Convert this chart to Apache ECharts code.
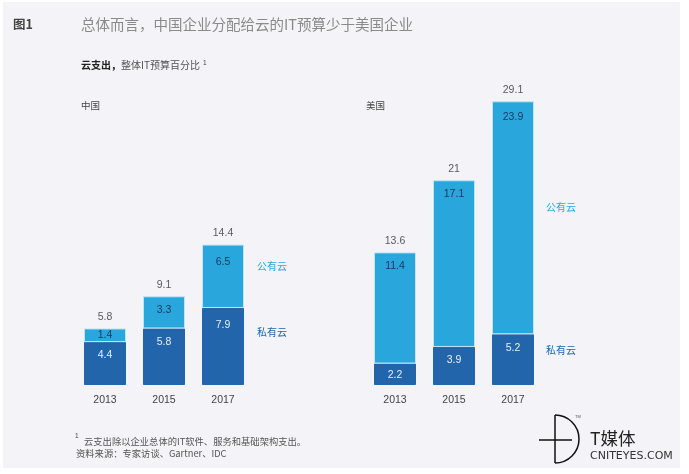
<!DOCTYPE html>
<html lang="zh">
<head>
    <meta charset="UTF-8">
    <title>图1</title>
    <script src="https://cdnjs.cloudflare.com/ajax/libs/echarts/6.0.0/echarts.min.js"></script>
    <style>
        html, body { margin: 0; padding: 0; background: #fff; }
        #box { width: 689px; height: 474px; }
    </style>
</head>
<body>
    <div id="box"></div>
    <script>
        // data
        var years = ['2013', '2015', '2017'];
        var chinaPrivate = [4.4, 5.8, 7.9];
        var chinaPublic = [1.4, 3.3, 6.5];
        var chinaTotal = [5.8, 9.1, 14.4];
        var usPrivate = [2.2, 3.9, 5.2];
        var usPublic = [11.4, 17.1, 23.9];
        var usTotal = [13.6, 21, 29.1];

        var figNo = '图1';
        var titleText = '总体而言，中国企业分配给云的IT预算少于美国企业';
        var subBold = '云支出，';
        var subRest = '整体IT预算百分比';
        var chinaName = '中国';
        var usName = '美国';
        var publicName = '公有云';
        var privateName = '私有云';
        var note1 = '云支出除以企业总体的IT软件、服务和基础架构支出。';
        var note2 = '资料来源：专家访谈、Gartner、IDC';

        var publicColor = '#29a7dd';
        var privateColor = '#2365ab';
        var latin = '"Liberation Sans", Arial, sans-serif';
        var cjk = '"Noto Sans CJK SC", sans-serif';

        // label gap inside a segment, roughly as in the picture
        function labelGap(v) {
            if (v < 3) return 6;
            if (v < 6) return 8;
            if (v < 10) return 12;
            if (v > 20) return 10;
            return 8;
        }

        function segData(values) {
            return values.map(function (v) {
                return {
                    value: v,
                    label: v < 2 ? { position: 'inside' } : { position: 'insideTop', distance: labelGap(v) }
                };
            });
        }

        function barSeries(values, idx, color, edge, labelColor) {
            return {
                type: 'bar',
                stack: 's' + idx,
                xAxisIndex: idx,
                yAxisIndex: idx,
                barWidth: 42,
                itemStyle: { color: color, borderColor: edge, borderWidth: 1 },
                label: { show: true, color: labelColor, fontFamily: latin, fontSize: 10.5 },
                data: segData(values)
            };
        }

        function totalSeries(values, idx) {
            return {
                type: 'scatter',
                xAxisIndex: idx,
                yAxisIndex: idx,
                symbolSize: 1,
                itemStyle: { color: 'transparent' },
                label: { show: true, position: 'top', distance: 5, color: '#333', fontFamily: latin, fontSize: 10.5 },
                data: values
            };
        }

        function xAxis(idx) {
            return {
                type: 'category',
                gridIndex: idx,
                data: years,
                axisLine: { show: false },
                axisTick: { show: false },
                axisLabel: { color: '#444', fontFamily: latin, fontSize: 10.5, margin: 10 }
            };
        }

        function yAxis(idx) {
            return { type: 'value', gridIndex: idx, min: 0, max: 30, show: false };
        }

        function txt(x, y, text, size, color, extra) {
            var style = {
                x: x, y: y, text: text,
                fill: color,
                font: (extra && extra.weight ? extra.weight + ' ' : '') + size + 'px ' + (extra && extra.family ? extra.family : cjk),
                verticalAlign: 'middle',
                align: 'left'
            };
            return { type: 'text', silent: true, z: 10, style: style };
        }

        var graphics = [
            { type: 'rect', z: -10, silent: true, shape: { x: 3, y: 2, width: 677, height: 466 }, style: { fill: '#f3f3f8' } },
            txt(13, 24, figNo, 12.5, '#444', { weight: 'bold' }),
            txt(81, 24, titleText, 14.5, '#8a8a8a'),
            txt(81, 65, subBold, 10, '#222', { weight: 'bold' }),
            txt(121, 65, subRest, 10, '#555'),
            txt(203, 63, '1', 6.5, '#444', { family: latin }),
            txt(81, 105, chinaName, 9.5, '#444'),
            txt(366, 105, usName, 9.5, '#444'),
            txt(257, 266, publicName, 10, publicColor),
            txt(257, 332, privateName, 10, privateColor),
            txt(546, 207, publicName, 10, publicColor),
            txt(546, 350, privateName, 10, privateColor),
            txt(75, 436, '1', 6.5, '#444', { family: latin }),
            txt(84, 441, note1, 9.3, '#555'),
            txt(76, 453, note2, 9.3, '#555'),
            // logo
            { type: 'line', silent: true, shape: { x1: 555, y1: 415, x2: 555, y2: 463 }, style: { stroke: '#111', lineWidth: 1.5 } },
            { type: 'arc', silent: true, shape: { cx: 555, cy: 439, r: 24, startAngle: -Math.PI / 2, endAngle: Math.PI / 2 }, style: { stroke: '#111', lineWidth: 1.5, fill: null } },
            { type: 'line', silent: true, shape: { x1: 539, y1: 440, x2: 572, y2: 440 }, style: { stroke: '#111', lineWidth: 1.5 } },
            txt(575, 417, 'TM', 4, '#555', { family: latin }),
            txt(590, 438, 'T媒体', 17.5, '#222'),
            txt(590, 456, 'CNITEYES.COM', 11, '#333', { family: '"DejaVu Sans", sans-serif' })
        ];

        var myChart = echarts.init(document.getElementById('box'), null, { renderer: 'canvas' });
        var option = {
            animation: false,
            backgroundColor: '#fff',
            grid: [
                { left: 75.5, top: 92.5, width: 177, height: 292.5 },
                { left: 365.5, top: 92.5, width: 177, height: 292.5 }
            ],
            xAxis: [xAxis(0), xAxis(1)],
            yAxis: [yAxis(0), yAxis(1)],
            series: [
                barSeries(chinaPrivate, 0, privateColor, privateColor, '#e8eef6'),
                barSeries(chinaPublic, 0, publicColor, '#bfe4f4', '#163a62'),
                totalSeries(chinaTotal, 0),
                barSeries(usPrivate, 1, privateColor, privateColor, '#e8eef6'),
                barSeries(usPublic, 1, publicColor, '#bfe4f4', '#163a62'),
                totalSeries(usTotal, 1)
            ],
            graphic: graphics
        };
        myChart.setOption(option);
    </script>
</body>
</html>
